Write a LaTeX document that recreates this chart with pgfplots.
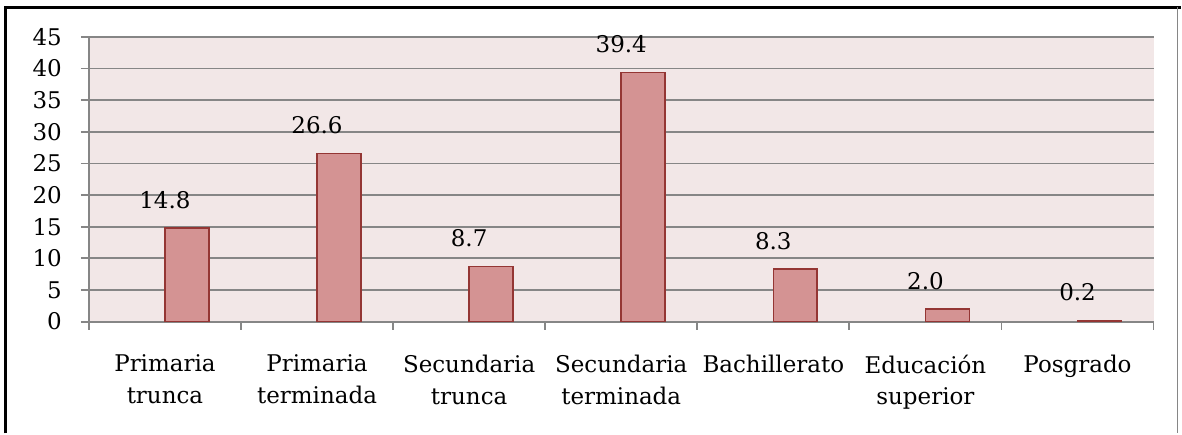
\documentclass[border=0pt]{standalone}
\usepackage{pgfplots}
\pgfplotsset{compat=1.18}
\usepackage{fontspec}
\setmainfont{DejaVu Serif}
\definecolor{plotbg}{HTML}{F2E7E7}
\definecolor{barfill}{HTML}{D49393}
\definecolor{barline}{HTML}{943634}
\definecolor{gridgray}{HTML}{868686}
\begin{document}
\begin{tikzpicture}
\begin{axis}[
  scale only axis,
  width=533pt, height=142.5pt,
  xmin=-0.5, xmax=6.5, ymin=0, ymax=45,
  ytick={0,5,...,45},
  xtick={0,1,2,3,4,5,6},
  xticklabels={{Primaria\\trunca},{Primaria\\terminada},{Secundaria\\trunca},{Secundaria\\terminada},{Bachillerato},{Educación\\superior},{Posgrado}},
  xticklabel style={align=center, text width=80pt, yshift=-9pt, font=\fontsize{11.5}{16}\selectfont},
  minor xtick={-0.5,0.5,...,6.5},
  major x tick style={draw=none},
  minor tick length=4pt,
  major tick length=4pt,
  tick align=outside,
  tick style={gridgray, line width=0.9pt},
  axis x line*=bottom, axis y line*=left,
  axis line style={gridgray, line width=0.9pt},
  ymajorgrids, major grid style={gridgray, line width=0.9pt},
  axis background/.style={fill=plotbg},
  /pgf/number format/assume math mode=true,
  yticklabel style={xshift=-6pt, font=\fontsize{11.5}{15}\selectfont},
  enlargelimits=false,
  clip=false,
]
\addplot[ybar, bar width=22pt, bar shift=11pt, fill=barfill, draw=barline, line width=0.8pt,
  nodes near coords, every node near coord/.append style={font=\fontsize{11.5}{13}\selectfont, text=black, yshift=6pt},
  /pgf/number format/.cd, fixed, fixed zerofill, precision=1]
coordinates {(0,14.8) (1,26.6) (2,8.7) (3,39.4) (4,8.3) (5,2.0) (6,0.2)};
\fill[white, opacity=0] (rel axis cs:-0.0835,-0.393) rectangle (rel axis cs:1.0253,1.1298);
\draw[black, line width=1.5pt] (rel axis cs:-0.0788,-0.393) -- (rel axis cs:-0.0788,1.105) -- (rel axis cs:1.0253,1.105);
\draw[gridgray, line width=0.6pt] (rel axis cs:1.0225,1.105) -- (rel axis cs:1.0225,-0.393);
\end{axis}
\end{tikzpicture}
\end{document}
